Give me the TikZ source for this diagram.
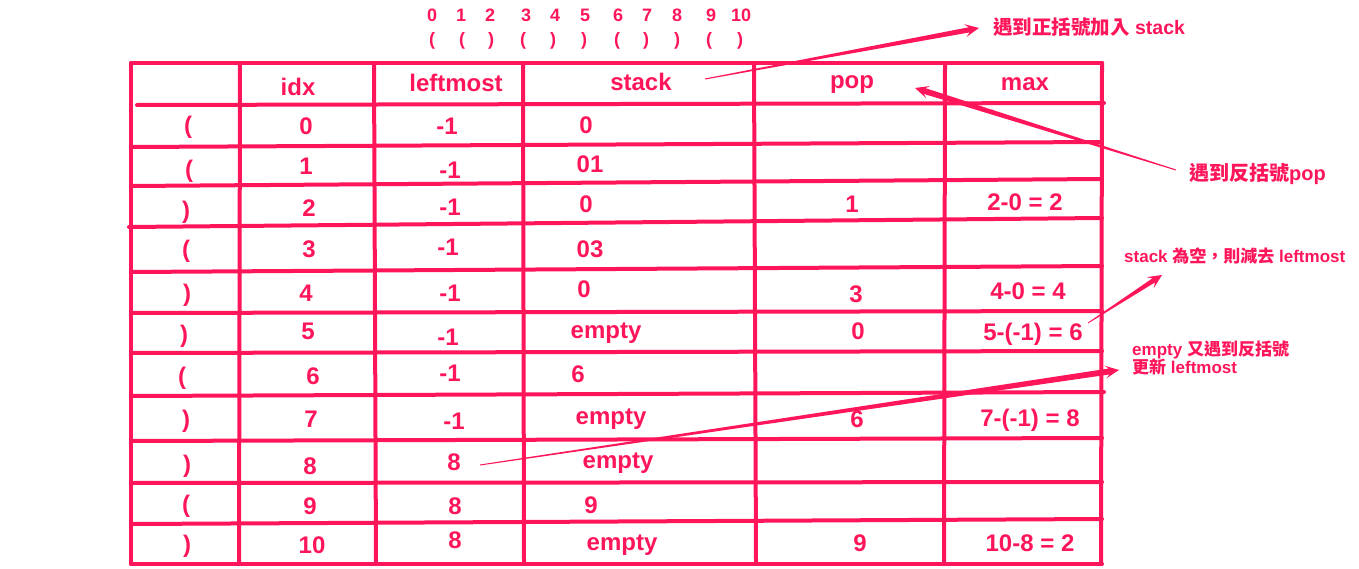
\documentclass[tikz,border=0pt]{standalone}
\usepackage{fontspec}
\setmainfont{Liberation Sans}
\newfontfamily\cjk{Noto Sans CJK TC}
\usetikzlibrary{calc}
\definecolor{pk}{RGB}{255,22,90}
% tapered arrow: #1 start, #2 tip, #3 start half-width, #4 shaft half-width
\newcommand\taperarrow[4]{%
  \fill[pk] ($(#1)!#3!90:(#2)$) -- ($(#2)!10pt!(#1)!#4!-90:(#1)$)
    -- ($(#2)!14pt!(#1)!6.5pt!-90:(#1)$) -- (#2)
    -- ($(#2)!14pt!(#1)!6.5pt!90:(#1)$) -- ($(#2)!10pt!(#1)!#4!90:(#1)$)
    -- ($(#1)!#3!-90:(#2)$) -- cycle;}
\tikzset{
  x=1pt, y=-1pt,
  grid/.style={draw=pk, line width=4pt, line cap=round},
  cell/.style={anchor=base, inner sep=0pt, text=pk, font=\fontsize{24}{26}\selectfont\bfseries},
  topidx/.style={anchor=base, inner sep=0pt, text=pk, font=\fontsize{18}{20}\selectfont\bfseries},
  note/.style={anchor=base west, inner sep=0pt, text=pk, font=\bfseries},
}
\begin{document}
\begin{tikzpicture}
\useasboundingbox[fill=white] (0,0) rectangle (1359,569);
% ---- table grid ----
\draw[grid] (131,63) -- (1102,63);
\draw[grid] (137,105) -- (1104,103);
\draw[grid] (131,147) -- (1102,142);
\draw[grid] (131,186) -- (1102,179);
\draw[grid] (129,227) -- (1102,218);
\draw[grid] (131,272) -- (1102,266);
\draw[grid] (131,313) -- (1102,311);
\draw[grid] (131,353) -- (1102,351);
\draw[grid] (131,396) -- (1104,392);
\draw[grid] (131,441) -- (1102,438);
\draw[grid] (131,483) -- (1102,482);
\draw[grid] (133,524) -- (1102,519);
\draw[grid] (131,564) -- (1102,564);
\draw[grid] (131,63) -- (131,564);
\draw[grid] (240,63) -- (239,562);
\draw[grid] (374,63) -- (376,563);
\draw[grid] (523,63) -- (524,563);
\draw[grid] (754,63) -- (756,562);
\draw[grid] (945,63) -- (944,563);
\draw[grid] (1102,63) -- (1101,564);
% ---- top index row ----
\node[topidx] (t0) at (432,22) {0};
\node[topidx] (t1) at (461,22) {1};
\node[topidx] (t2) at (490,22) {2};
\node[topidx] (t3) at (526,22) {3};
\node[topidx] (t4) at (555,22) {4};
\node[topidx] (t5) at (585,22) {5};
\node[topidx] (t6) at (618,22) {6};
\node[topidx] (t7) at (647,22) {7};
\node[topidx] (t8) at (677,22) {8};
\node[topidx] (t9) at (711,22) {9};
\node[topidx] (t10) at (741,22) {10};
\node[topidx] (q0) at (432,46) {(};
\node[topidx] (q1) at (462,46) {(};
\node[topidx] (q2) at (491,46) {)};
\node[topidx] (q3) at (523,46) {(};
\node[topidx] (q4) at (553,46) {)};
\node[topidx] (q5) at (584,46) {)};
\node[topidx] (q6) at (617,46) {(};
\node[topidx] (q7) at (646,46) {)};
\node[topidx] (q8) at (677,46) {)};
\node[topidx] (q9) at (709,46) {(};
\node[topidx] (q10) at (740,46) {)};
% ---- header ----
\node[cell] (hidx) at (298,96) {idx};
\node[cell] (hleft) at (456,92) {leftmost};
\node[cell] (hstack) at (641,91) {stack};
\node[cell] (hpop) at (852,89) {pop};
\node[cell] (hmax) at (1025,91) {max};
% ---- rows ----
\node[cell] (r0a) at (188,134) {(};
\node[cell] (r0b) at (306,135) {0};
\node[cell] (r0c) at (447,135) {-1};
\node[cell] (r0d) at (586,134) {0};
\node[cell] (r1a) at (189,178) {(};
\node[cell] (r1b) at (306,175) {1};
\node[cell] (r1c) at (450,179) {-1};
\node[cell] (r1d) at (590,173) {01};
\node[cell] (r2a) at (186,219) {)};
\node[cell] (r2b) at (309,217) {2};
\node[cell] (r2c) at (450,216) {-1};
\node[cell] (r2d) at (586,213) {0};
\node[cell] (r2e) at (852,213) {1};
\node[cell] (r2f) at (1025,211) {2-0 = 2};
\node[cell] (r3a) at (186,258) {(};
\node[cell] (r3b) at (309,258) {3};
\node[cell] (r3c) at (448,255) {-1};
\node[cell] (r3d) at (590,258) {03};
\node[cell] (r4a) at (187,301) {)};
\node[cell] (r4b) at (306,301) {4};
\node[cell] (r4c) at (450,301) {-1};
\node[cell] (r4d) at (584,297) {0};
\node[cell] (r4e) at (856,302) {3};
\node[cell] (r4f) at (1028,299) {4-0 = 4};
\node[cell] (r5a) at (184,342) {)};
\node[cell] (r5b) at (308,339) {5};
\node[cell] (r5c) at (448,345) {-1};
\node[cell] (r5d) at (606,338) {empty};
\node[cell] (r5e) at (858,339) {0};
\node[cell] (r5f) at (1033,340) {5-(-1) = 6};
\node[cell] (r6a) at (182,384) {(};
\node[cell] (r6b) at (313,384) {6};
\node[cell] (r6c) at (450,381) {-1};
\node[cell] (r6d) at (578,382) {6};
\node[cell] (r7a) at (186,427) {)};
\node[cell] (r7b) at (311,427) {7};
\node[cell] (r7c) at (454,429) {-1};
\node[cell] (r7d) at (611,424) {empty};
\node[cell] (r7e) at (857,427) {6};
\node[cell] (r7f) at (1030,426) {7-(-1) = 8};
\node[cell] (r8a) at (187,472) {)};
\node[cell] (r8b) at (310,474) {8};
\node[cell] (r8c) at (454,470) {8};
\node[cell] (r8d) at (618,468) {empty};
\node[cell] (r9a) at (186,512) {(};
\node[cell] (r9b) at (310,514) {9};
\node[cell] (r9c) at (455,514) {8};
\node[cell] (r9d) at (591,513) {9};
\node[cell] (r10a) at (187,552) {)};
\node[cell] (r10b) at (312,553) {10};
\node[cell] (r10c) at (455,548) {8};
\node[cell] (r10d) at (622,550) {empty};
\node[cell] (r10e) at (860,551) {9};
\node[cell] (r10f) at (1030,551) {10-8 = 2};
% ---- annotations ----
\node[note, font=\fontsize{19.5}{21}\selectfont\bfseries] (n1) at (993,35) {{\cjk 遇到正括號加入} stack};
\node[note, font=\fontsize{20}{22}\selectfont\bfseries] (n2) at (1189,181) {{\cjk 遇到反括號}pop};
\node[note, font=\fontsize{17}{19}\selectfont\bfseries] (n3) at (1124,262) {stack {\cjk 為空，則減去} leftmost};
\node[note, font=\fontsize{17}{19}\selectfont\bfseries] (n4a) at (1132,355) {empty {\cjk 又遇到反括號}};
\node[note, font=\fontsize{17}{19}\selectfont\bfseries] (n4b) at (1132,373) {{\cjk 更新} leftmost};
% ---- arrows ----
\coordinate (a1s) at (705,79);   \coordinate (a1t) at (979,28);
\coordinate (a2s) at (1176,170); \coordinate (a2t) at (915,88);
\coordinate (a3s) at (1088,323); \coordinate (a3t) at (1162,275);
\coordinate (a4s) at (480,465);  \coordinate (a4t) at (1119,370);
\taperarrow{a1s}{a1t}{0.5pt}{2.6pt}
\taperarrow{a2s}{a2t}{0.5pt}{3pt}
\taperarrow{a3s}{a3t}{0.4pt}{2.4pt}
\taperarrow{a4s}{a4t}{0.5pt}{3pt}
\end{tikzpicture}
\end{document}
